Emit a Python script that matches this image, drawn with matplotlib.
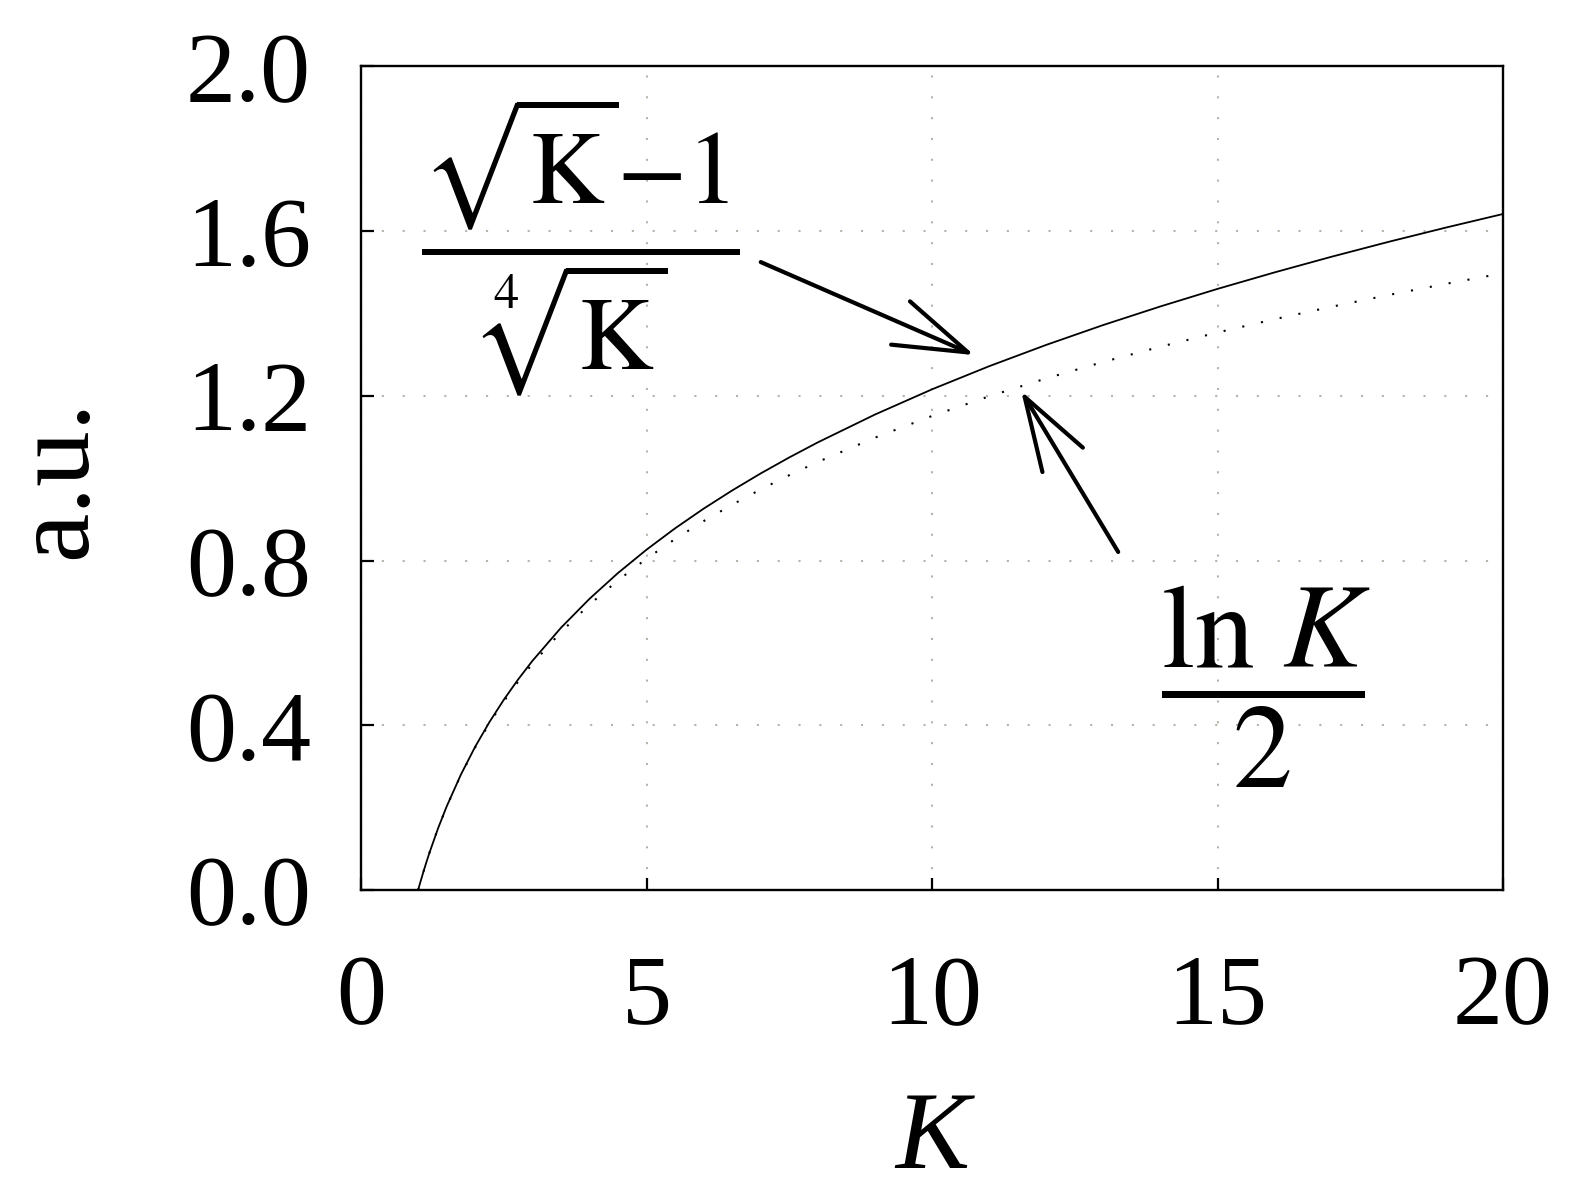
import matplotlib
matplotlib.use("Agg")
import matplotlib.pyplot as plt

plt.rcParams['font.family'] = ['Liberation Serif', 'DejaVu Serif']
plt.rcParams['mathtext.fontset'] = 'stix'

# values
K = [1, 1.025, 1.05, 1.1, 1.15, 1.2, 1.35, 1.5, 1.75, 2, 2.25, 2.5, 2.75, 3,
     3.5, 4, 4.5, 5, 5.5, 6, 6.5, 7, 7.5, 8, 9, 10, 11, 12, 13, 14, 15, 16,
     17, 18, 19, 20]
root_ratio = [0, 0.0124, 0.0244, 0.0477, 0.0699, 0.0912, 0.1502, 0.2031,
              0.2807, 0.3483, 0.4082, 0.4621, 0.5112, 0.5563, 0.6367, 0.7071,
              0.7699, 0.8266, 0.8784, 0.9262, 0.9704, 1.0118, 1.0506, 1.0872,
              1.1547, 1.2160, 1.2721, 1.3239, 1.3722, 1.4173, 1.4599, 1.5,
              1.5381, 1.5743, 1.6088, 1.6418]
half_log = [0, 0.0124, 0.0244, 0.0477, 0.0699, 0.0912, 0.1501, 0.2027,
            0.2798, 0.3466, 0.4055, 0.4581, 0.5058, 0.5493, 0.6264, 0.6931,
            0.7520, 0.8047, 0.8524, 0.8959, 0.9359, 0.9730, 1.0075, 1.0397,
            1.0986, 1.1513, 1.1990, 1.2425, 1.2825, 1.3195, 1.3540, 1.3863,
            1.4166, 1.4452, 1.4722, 1.4979]
xticks = [0, 5, 10, 15, 20]
yticks = [0.0, 0.4, 0.8, 1.2, 1.6, 2.0]

fig = plt.figure(figsize=(15.8, 12), dpi=100)
ax = fig.add_axes([0.2285, 0.2583, 0.7228, 0.6863])

ax.plot(K, root_ratio, color='black', lw=1.3)
ax.plot(K, half_log, color='black', lw=1.5, linestyle=(0, (1, 8.2)))

ax.set_xlim(0, 20)
ax.set_ylim(0, 2.0)
ax.set_xticks(xticks)
ax.set_yticks(yticks)
ax.set_yticklabels(['%.1f' % v for v in yticks])
ax.tick_params(direction='in', length=9, width=1.6, labelsize=72)
ax.tick_params(axis='y', pad=36)
ax.tick_params(axis='x', pad=46)
for s in ax.spines.values():
    s.set_linewidth(1.7)

ax.grid(True, color='#b4b4a8', lw=1.5, linestyle=(0, (1, 9)))

ax.set_xlabel('K', fontsize=80, style='italic', labelpad=34)
ax.set_ylabel('a.u.', fontsize=80, labelpad=56)

arrow = dict(arrowstyle='->, head_length=5.3, head_width=1.7',
             mutation_scale=10, lw=3, color='black', shrinkA=0, shrinkB=0)
ax.annotate('', xy=(10.74, 1.299), xytext=(7.0, 1.525), arrowprops=arrow)
ax.annotate('', xy=(11.56, 1.212), xytext=(13.26, 0.821), arrowprops=arrow)

ax.text(3.85, 1.565, r'$\dfrac{\sqrt{\mathrm{K}}{-}1}{\sqrt[4]{\mathrm{K}}}$',
        fontsize=74, ha='center', va='center')
ax.text(15.85, 0.492, r'$\dfrac{\ln\,K}{2}$',
        fontsize=86, ha='center', va='center')

fig.savefig('out.png', dpi=100)
